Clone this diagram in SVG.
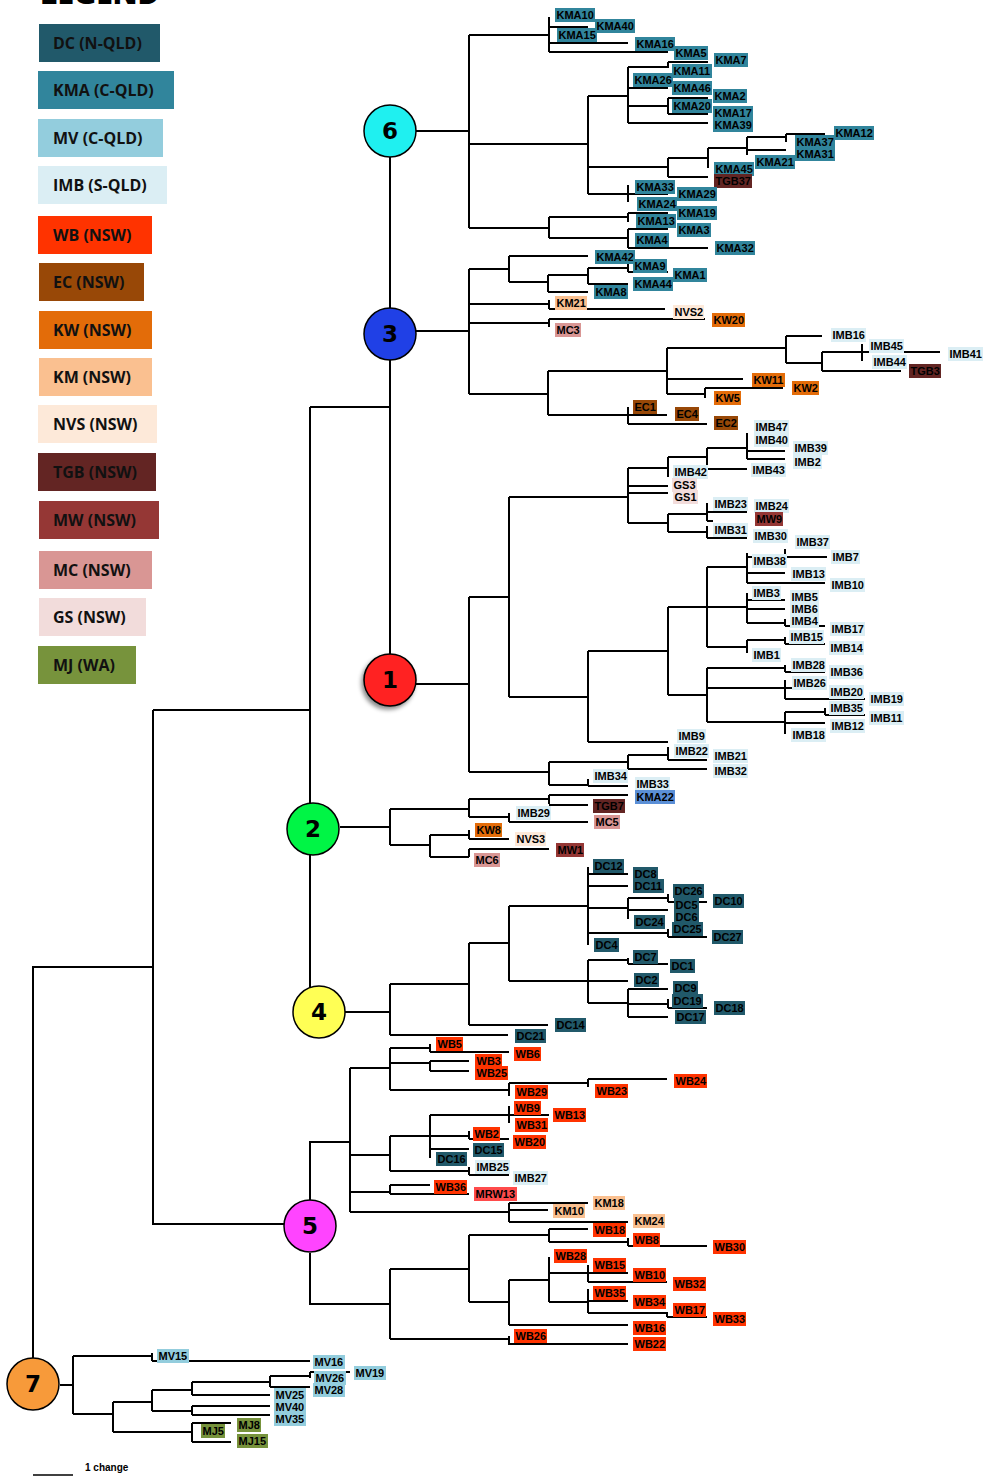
<svg xmlns="http://www.w3.org/2000/svg" width="988" height="1477" viewBox="0 0 988 1477">
<style>
.t{font-family:"Liberation Sans",Arial,sans-serif;font-size:11px;font-weight:bold;fill:#000}
.br{fill:none;stroke:#000;stroke-width:2}
.lg{font-family:"Open Sans","Liberation Sans",sans-serif;font-size:16px;font-weight:700;fill:#111}
.cn{font-family:"DejaVu Sans","Liberation Sans",sans-serif;font-size:23px;font-weight:bold;text-anchor:middle;fill:#000}
.cc{stroke:#000;stroke-width:1.5}
.dc{fill:#21596a}.kma{fill:#31859c}.mv{fill:#93cddd}.imb{fill:#dbeef4}.wb{fill:#ff3300}.ec{fill:#984807}
.kw{fill:#e36c09}.km{fill:#fac090}.nvs{fill:#fde9d9}.tgb{fill:#632523}.mw{fill:#953735}.mc{fill:#d99694}
.gs{fill:#f2dcdb}.mj{fill:#77933c}.kma22{fill:#5b8fd6}.mrw{fill:#ff4b4b}
</style>
<defs>
<filter id="sh" x="-30%" y="-30%" width="170%" height="170%"><feDropShadow dx="-2" dy="3" stdDeviation="2" flood-color="#000" flood-opacity="0.45"/></filter>
</defs>
<rect width="988" height="1477" fill="#fff"/>

<g id="legend">
<text x="40" y="4" font-family="Open Sans, Liberation Sans, sans-serif" font-size="30" font-weight="800" fill="#000">LEGEND</text>
<rect class="dc" x="39" y="24" width="121" height="38"/><text class="lg" x="53" y="49">DC (N-QLD)</text>
<rect class="kma" x="38" y="71" width="136" height="38"/><text class="lg" x="53" y="96">KMA (C-QLD)</text>
<rect class="mv" x="38" y="119" width="125" height="38"/><text class="lg" x="53" y="144">MV (C-QLD)</text>
<rect class="imb" x="38" y="166" width="129" height="38"/><text class="lg" x="53" y="191">IMB (S-QLD)</text>
<rect class="wb" x="38" y="216" width="114" height="38"/><text class="lg" x="53" y="241">WB (NSW)</text>
<rect class="ec" x="39" y="263" width="105" height="38"/><text class="lg" x="53" y="288">EC (NSW)</text>
<rect class="kw" x="39" y="311" width="113" height="38"/><text class="lg" x="53" y="336">KW (NSW)</text>
<rect class="km" x="39" y="358" width="113" height="38"/><text class="lg" x="53" y="383">KM (NSW)</text>
<rect class="nvs" x="38" y="405" width="119" height="38"/><text class="lg" x="53" y="430">NVS (NSW)</text>
<rect class="tgb" x="38" y="453" width="118" height="38"/><text class="lg" x="53" y="478">TGB (NSW)</text>
<rect class="mw" x="39" y="501" width="120" height="38"/><text class="lg" x="53" y="526">MW (NSW)</text>
<rect class="mc" x="39" y="551" width="113" height="38"/><text class="lg" x="53" y="576">MC (NSW)</text>
<rect class="gs" x="39" y="598" width="107" height="38"/><text class="lg" x="53" y="623">GS (NSW)</text>
<rect class="mj" x="38" y="646" width="98" height="38"/><text class="lg" x="53" y="671">MJ (WA)</text>
</g>

<g id="connectors" class="br">
<path d="M33 1358V967H153M153 710V1224H284M153 710H310M310 407V803M310 855V990M310 407H390M390 157V654M416 131H469M469 35V228M416 331H469M469 269V394M416 684H469M469 597V772M340 827H390M390 809V845M345 1012H390M390 984V1035M310 1201V1142H350M350 1068V1212M310 1253V1304H390M390 1269V1339M60 1385H73M73 1356V1414"/>
<path d="M469 35H549M549 17V52M549 27H588M549 43H628M549 52H668M469 144H588M588 96V194M588 96H628M628 67V123M628 67H668M668 62V68M668 62H708M628 88H668M628 106H668M668 98V114M668 98H708M668 114H708M628 123H708M588 167H668M668 158V177M668 158H708M708 148V168M708 148H747M747 137V155M747 137H786M786 134V142M786 134H825M747 150H786M668 177H708M588 194H668M628 185V202M469 228H549M549 217V238M549 217H628M628 213V222M628 213H668M549 238H628M628 229V248M628 229H668M628 248H708"/>
<path d="M469 269H509M509 256V282M509 256H588M509 282H548M548 275V292M548 275H588M588 268V284M588 268H628M628 264V272M628 272H668M588 284H628M548 292H588M469 304H549M549 300V309M549 309H665M469 323H549M549 319V327M549 319H705M469 394H548M548 371V415M548 371H667M667 348V394M667 348H786M786 336V363M786 336H822M786 363H822M822 352V371M822 352H940M862 344V361M822 371H901M667 379H743M667 394H705M705 388V398M705 388H783M548 415H628M628 407V424M628 415H667M628 424H707"/>
<path d="M469 597H509M509 497V697M509 497H628M628 468V523M628 468H668M668 457V477M668 457H707M707 448V469M707 448H747M747 433V459M747 451H785M747 459H785M707 469H747M628 486H668M628 493H668M628 523H668M668 514V532M668 514H707M707 503V521M707 512H747M707 521H713M668 532H707M707 526V538M707 538H747M509 697H588M588 651V742M588 651H668M668 607V695M668 607H707M707 567V647M707 567H747M747 553V583M747 557H827M785 549V557M747 573H785M747 583H825M707 607H747M747 593V623M747 600H785M747 609H785M747 623H785M785 619V626M785 626H825M707 647H747M747 640V653M747 640H785M785 637V644M785 644H825M668 695H707M707 668V722M707 668H785M785 665V672M785 672H825M707 688H785M785 680V699M785 688H827M785 699H865M707 722H785M785 712V734M785 712H825M825 708V715M825 715H865M785 723H825M588 742H668M469 772H549M549 762V785M549 762H628M628 755V769M628 755H668M668 747V760M668 760H707M628 769H707M549 785H588M588 779V786M588 786H628"/>
<path d="M390 809H469M469 799V817M469 799H549M549 795V804M549 795H628M549 805H588M469 817H509M509 813V822M509 822H588M390 845H430M430 835V857M430 835H469M469 830V839M469 839H509M430 857H469M469 849V857M469 849H549"/>
<path d="M390 984H469M469 943V1025M469 1025H548M390 1035H508M469 943H509M509 906V981M509 906H588M588 867V945M588 874H628M588 886H628M588 908H628M628 898V919M628 898H668M668 894V902M668 902H707M628 910H668M588 933H668M668 929V937M668 937H707M509 981H588M588 960V1003M588 960H628M628 958V964M628 964H668M588 981H628M588 1003H628M628 989V1017M628 989H668M628 1004H668M668 999V1008M668 1008H707M628 1017H668"/>
<path d="M350 1068H390M390 1048V1090M390 1048H430M430 1044V1052M430 1052H509M390 1063H430M430 1061V1071M430 1061H469M430 1071H469M390 1090H509M509 1083V1096M509 1083H588M588 1079V1087M588 1079H667M350 1155H390M390 1136V1171M390 1136H430M430 1115V1158M430 1115H549M509 1106V1123M430 1136H469M469 1131V1139M469 1139H509M430 1149H469M390 1171H469M469 1167V1175M469 1175H509M350 1192H390M390 1185V1194M390 1185H430M390 1194H469M350 1212H509M509 1203V1222M509 1203H588M509 1210H548M509 1222H628M390 1269H469M469 1235V1302M469 1235H549M549 1229V1242M549 1229H588M549 1242H628M628 1238V1246M628 1246H707M469 1302H509M509 1280V1325M509 1280H549M549 1257V1302M549 1273H628M588 1265V1282M588 1282H667M549 1302H588M588 1289V1313M588 1301H628M588 1313H667M667 1312V1317M667 1317H707M509 1325H628M390 1339H509M509 1336V1345M509 1344H628"/>
<path d="M73 1356H152M152 1353V1361M152 1361H310M73 1414H113M113 1402V1432M113 1402H152M152 1390V1411M152 1390H192M192 1382V1395M192 1382H270M270 1376V1387M270 1376H310M310 1372V1378M310 1372H350M270 1387H310M192 1395H270M152 1411H192M192 1406V1415M192 1406H270M192 1415H270M113 1432H192M192 1423V1442M192 1423H231M192 1442H231"/>
<path d="M33 1475H73" stroke-width="1.5"/>
</g>
<text x="85" y="1471" font-family="Liberation Sans, Arial, sans-serif" font-size="10" font-weight="bold">1 change</text>

<g id="circles">
<g id="c6"><circle class="cc" cx="390" cy="131" r="26" fill="#1ff0f0"/><text class="cn" x="390" y="139">6</text></g>
<g id="c3"><circle class="cc" cx="390" cy="334" r="26" fill="#2040e6"/><text class="cn" x="390" y="342">3</text></g>
<g id="c1"><circle class="cc" cx="390" cy="680" r="26" fill="#ff2020" filter="url(#sh)"/><text class="cn" x="390" y="688">1</text></g>
<g id="c2"><circle class="cc" cx="313" cy="829" r="26" fill="#00f545"/><text class="cn" x="313" y="837">2</text></g>
<g id="c4"><circle class="cc" cx="319" cy="1012" r="26" fill="#ffff55"/><text class="cn" x="319" y="1020">4</text></g>
<g id="c5"><circle class="cc" cx="310" cy="1226" r="26" fill="#ff44ff"/><text class="cn" x="310" y="1234">5</text></g>
<g id="c7"><circle class="cc" cx="33" cy="1384" r="26" fill="#f79a3a"/><text class="cn" x="33" y="1392">7</text></g>
</g>

<g id="labels">
<g id="KMA10"><rect class="kma" x="555" y="8" width="40" height="14"/><text class="t" x="556.5" y="19">KMA10</text></g>
<g id="KMA40"><rect class="kma" x="595" y="19" width="40" height="14"/><text class="t" x="596.5" y="30">KMA40</text></g>
<g id="KMA15"><rect class="kma" x="557" y="28" width="40" height="14"/><text class="t" x="558.5" y="39">KMA15</text></g>
<g id="KMA16"><rect class="kma" x="635" y="37" width="40" height="14"/><text class="t" x="636.5" y="48">KMA16</text></g>
<g id="KMA5"><rect class="kma" x="674" y="46" width="34" height="14"/><text class="t" x="675.5" y="57">KMA5</text></g>
<g id="KMA7"><rect class="kma" x="714" y="53" width="34" height="14"/><text class="t" x="715.5" y="64">KMA7</text></g>
<g id="KMA11"><rect class="kma" x="672" y="64" width="40" height="14"/><text class="t" x="673.5" y="75">KMA11</text></g>
<g id="KMA26"><rect class="kma" x="633" y="73" width="40" height="14"/><text class="t" x="634.5" y="84">KMA26</text></g>
<g id="KMA46"><rect class="kma" x="672" y="81" width="40" height="14"/><text class="t" x="673.5" y="92">KMA46</text></g>
<g id="KMA2"><rect class="kma" x="713" y="89" width="34" height="14"/><text class="t" x="714.5" y="100">KMA2</text></g>
<g id="KMA20"><rect class="kma" x="672" y="99" width="40" height="14"/><text class="t" x="673.5" y="110">KMA20</text></g>
<g id="KMA17"><rect class="kma" x="713" y="106" width="40" height="14"/><text class="t" x="714.5" y="117">KMA17</text></g>
<g id="KMA39"><rect class="kma" x="713" y="118" width="40" height="14"/><text class="t" x="714.5" y="129">KMA39</text></g>
<g id="KMA12"><rect class="kma" x="834" y="126" width="40" height="14"/><text class="t" x="835.5" y="137">KMA12</text></g>
<g id="KMA37"><rect class="kma" x="795" y="135" width="40" height="14"/><text class="t" x="796.5" y="146">KMA37</text></g>
<g id="KMA31"><rect class="kma" x="795" y="147" width="40" height="14"/><text class="t" x="796.5" y="158">KMA31</text></g>
<g id="KMA21"><rect class="kma" x="755" y="155" width="40" height="14"/><text class="t" x="756.5" y="166">KMA21</text></g>
<g id="KMA45"><rect class="kma" x="714" y="162" width="40" height="14"/><text class="t" x="715.5" y="173">KMA45</text></g>
<g id="TGB37"><rect class="tgb" x="714" y="174" width="38" height="14"/><text class="t" x="715.5" y="185">TGB37</text></g>
<g id="KMA33"><rect class="kma" x="635" y="180" width="40" height="14"/><text class="t" x="636.5" y="191">KMA33</text></g>
<g id="KMA29"><rect class="kma" x="677" y="187" width="40" height="14"/><text class="t" x="678.5" y="198">KMA29</text></g>
<g id="KMA24"><rect class="kma" x="637" y="197" width="40" height="14"/><text class="t" x="638.5" y="208">KMA24</text></g>
<g id="KMA19"><rect class="kma" x="677" y="206" width="40" height="14"/><text class="t" x="678.5" y="217">KMA19</text></g>
<g id="KMA13"><rect class="kma" x="636" y="214" width="40" height="14"/><text class="t" x="637.5" y="225">KMA13</text></g>
<g id="KMA3"><rect class="kma" x="677" y="223" width="34" height="14"/><text class="t" x="678.5" y="234">KMA3</text></g>
<g id="KMA4"><rect class="kma" x="635" y="233" width="34" height="14"/><text class="t" x="636.5" y="244">KMA4</text></g>
<g id="KMA32"><rect class="kma" x="715" y="241" width="40" height="14"/><text class="t" x="716.5" y="252">KMA32</text></g>

<g id="KMA42"><rect class="kma" x="595" y="250" width="40" height="14"/><text class="t" x="596.5" y="261">KMA42</text></g>
<g id="KMA9"><rect class="kma" x="633" y="259" width="34" height="14"/><text class="t" x="634.5" y="270">KMA9</text></g>
<g id="KMA1"><rect class="kma" x="673" y="268" width="34" height="14"/><text class="t" x="674.5" y="279">KMA1</text></g>
<g id="KMA44"><rect class="kma" x="633" y="277" width="40" height="14"/><text class="t" x="634.5" y="288">KMA44</text></g>
<g id="KMA8"><rect class="kma" x="594" y="285" width="34" height="14"/><text class="t" x="595.5" y="296">KMA8</text></g>
<g id="KM21"><rect class="km" x="555" y="296" width="32" height="14"/><text class="t" x="556.5" y="307">KM21</text></g>
<g id="NVS2"><rect class="nvs" x="673" y="305" width="31" height="14"/><text class="t" x="674.5" y="316">NVS2</text></g>
<g id="KW20"><rect class="kw" x="712" y="313" width="33" height="14"/><text class="t" x="713.5" y="324">KW20</text></g>
<g id="MC3"><rect class="mc" x="555" y="323" width="26" height="14"/><text class="t" x="556.5" y="334">MC3</text></g>
<g id="IMB16"><rect class="imb" x="831" y="328" width="35" height="14"/><text class="t" x="832.5" y="339">IMB16</text></g>
<g id="IMB45"><rect class="imb" x="869" y="339" width="35" height="14"/><text class="t" x="870.5" y="350">IMB45</text></g>
<g id="IMB41"><rect class="imb" x="948" y="347" width="35" height="14"/><text class="t" x="949.5" y="358">IMB41</text></g>
<g id="IMB44"><rect class="imb" x="872" y="355" width="35" height="14"/><text class="t" x="873.5" y="366">IMB44</text></g>
<g id="TGB3"><rect class="tgb" x="909" y="364" width="32" height="14"/><text class="t" x="910.5" y="375">TGB3</text></g>
<g id="KW11"><rect class="kw" x="752" y="373" width="33" height="14"/><text class="t" x="753.5" y="384">KW11</text></g>
<g id="KW2"><rect class="kw" x="792" y="381" width="27" height="14"/><text class="t" x="793.5" y="392">KW2</text></g>
<g id="KW5"><rect class="kw" x="714" y="391" width="27" height="14"/><text class="t" x="715.5" y="402">KW5</text></g>
<g id="EC1"><rect class="ec" x="633" y="400" width="24" height="14"/><text class="t" x="634.5" y="411">EC1</text></g>
<g id="EC4"><rect class="ec" x="675" y="407" width="24" height="14"/><text class="t" x="676.5" y="418">EC4</text></g>
<g id="EC2"><rect class="ec" x="714" y="416" width="24" height="14"/><text class="t" x="715.5" y="427">EC2</text></g>

<g id="IMB47"><rect class="imb" x="754" y="420" width="35" height="14"/><text class="t" x="755.5" y="431">IMB47</text></g>
<g id="IMB40"><rect class="imb" x="754" y="433" width="35" height="14"/><text class="t" x="755.5" y="444">IMB40</text></g>
<g id="IMB39"><rect class="imb" x="793" y="441" width="35" height="14"/><text class="t" x="794.5" y="452">IMB39</text></g>
<g id="IMB2"><rect class="imb" x="793" y="455" width="29" height="14"/><text class="t" x="794.5" y="466">IMB2</text></g>
<g id="IMB43"><rect class="imb" x="751" y="463" width="35" height="14"/><text class="t" x="752.5" y="474">IMB43</text></g>
<g id="IMB42"><rect class="imb" x="673" y="465" width="35" height="14"/><text class="t" x="674.5" y="476">IMB42</text></g>
<g id="GS3"><rect class="gs" x="672" y="478" width="25" height="14"/><text class="t" x="673.5" y="489">GS3</text></g>
<g id="GS1"><rect class="gs" x="673" y="490" width="25" height="14"/><text class="t" x="674.5" y="501">GS1</text></g>
<g id="IMB23"><rect class="imb" x="713" y="497" width="35" height="14"/><text class="t" x="714.5" y="508">IMB23</text></g>
<g id="IMB24"><rect class="imb" x="754" y="499" width="35" height="14"/><text class="t" x="755.5" y="510">IMB24</text></g>
<g id="MW9"><rect class="mw" x="755" y="512" width="28" height="14"/><text class="t" x="756.5" y="523">MW9</text></g>
<g id="IMB31"><rect class="imb" x="713" y="523" width="35" height="14"/><text class="t" x="714.5" y="534">IMB31</text></g>
<g id="IMB30"><rect class="imb" x="753" y="529" width="35" height="14"/><text class="t" x="754.5" y="540">IMB30</text></g>
<g id="IMB37"><rect class="imb" x="795" y="535" width="35" height="14"/><text class="t" x="796.5" y="546">IMB37</text></g>
<g id="IMB7"><rect class="imb" x="831" y="550" width="29" height="14"/><text class="t" x="832.5" y="561">IMB7</text></g>
<g id="IMB38"><rect class="imb" x="752" y="554" width="35" height="14"/><text class="t" x="753.5" y="565">IMB38</text></g>
<g id="IMB13"><rect class="imb" x="791" y="567" width="35" height="14"/><text class="t" x="792.5" y="578">IMB13</text></g>
<g id="IMB10"><rect class="imb" x="830" y="578" width="35" height="14"/><text class="t" x="831.5" y="589">IMB10</text></g>
<g id="IMB3"><rect class="imb" x="752" y="586" width="29" height="14"/><text class="t" x="753.5" y="597">IMB3</text></g>
<g id="IMB5"><rect class="imb" x="790" y="590" width="29" height="14"/><text class="t" x="791.5" y="601">IMB5</text></g>
<g id="IMB6"><rect class="imb" x="790" y="602" width="29" height="14"/><text class="t" x="791.5" y="613">IMB6</text></g>
<g id="IMB4"><rect class="imb" x="790" y="614" width="29" height="14"/><text class="t" x="791.5" y="625">IMB4</text></g>
<g id="IMB17"><rect class="imb" x="830" y="622" width="35" height="14"/><text class="t" x="831.5" y="633">IMB17</text></g>
<g id="IMB15"><rect class="imb" x="789" y="630" width="35" height="14"/><text class="t" x="790.5" y="641">IMB15</text></g>
<g id="IMB14"><rect class="imb" x="829" y="641" width="35" height="14"/><text class="t" x="830.5" y="652">IMB14</text></g>
<g id="IMB1"><rect class="imb" x="752" y="648" width="29" height="14"/><text class="t" x="753.5" y="659">IMB1</text></g>
<g id="IMB28"><rect class="imb" x="791" y="658" width="35" height="14"/><text class="t" x="792.5" y="669">IMB28</text></g>
<g id="IMB36"><rect class="imb" x="829" y="665" width="35" height="14"/><text class="t" x="830.5" y="676">IMB36</text></g>
<g id="IMB26"><rect class="imb" x="792" y="676" width="35" height="14"/><text class="t" x="793.5" y="687">IMB26</text></g>
<g id="IMB20"><rect class="imb" x="829" y="685" width="35" height="14"/><text class="t" x="830.5" y="696">IMB20</text></g>
<g id="IMB19"><rect class="imb" x="869" y="692" width="35" height="14"/><text class="t" x="870.5" y="703">IMB19</text></g>
<g id="IMB35"><rect class="imb" x="829" y="701" width="35" height="14"/><text class="t" x="830.5" y="712">IMB35</text></g>
<g id="IMB11"><rect class="imb" x="869" y="711" width="35" height="14"/><text class="t" x="870.5" y="722">IMB11</text></g>
<g id="IMB12"><rect class="imb" x="830" y="719" width="35" height="14"/><text class="t" x="831.5" y="730">IMB12</text></g>
<g id="IMB18"><rect class="imb" x="791" y="728" width="35" height="14"/><text class="t" x="792.5" y="739">IMB18</text></g>
<g id="IMB9"><rect class="imb" x="677" y="729" width="29" height="14"/><text class="t" x="678.5" y="740">IMB9</text></g>
<g id="IMB22"><rect class="imb" x="674" y="744" width="35" height="14"/><text class="t" x="675.5" y="755">IMB22</text></g>
<g id="IMB21"><rect class="imb" x="713" y="749" width="35" height="14"/><text class="t" x="714.5" y="760">IMB21</text></g>
<g id="IMB32"><rect class="imb" x="713" y="764" width="35" height="14"/><text class="t" x="714.5" y="775">IMB32</text></g>
<g id="IMB34"><rect class="imb" x="593" y="769" width="35" height="14"/><text class="t" x="594.5" y="780">IMB34</text></g>
<g id="IMB33"><rect class="imb" x="635" y="777" width="35" height="14"/><text class="t" x="636.5" y="788">IMB33</text></g>

<g id="KMA22"><rect class="kma22" x="635" y="790" width="40" height="14"/><text class="t" x="636.5" y="801">KMA22</text></g>
<g id="TGB7"><rect class="tgb" x="593" y="799" width="32" height="14"/><text class="t" x="594.5" y="810">TGB7</text></g>
<g id="IMB29"><rect class="imb" x="516" y="806" width="35" height="14"/><text class="t" x="517.5" y="817">IMB29</text></g>
<g id="MC5"><rect class="mc" x="594" y="815" width="26" height="14"/><text class="t" x="595.5" y="826">MC5</text></g>
<g id="KW8"><rect class="kw" x="475" y="823" width="27" height="14"/><text class="t" x="476.5" y="834">KW8</text></g>
<g id="NVS3"><rect class="nvs" x="515" y="832" width="31" height="14"/><text class="t" x="516.5" y="843">NVS3</text></g>
<g id="MW1"><rect class="mw" x="556" y="843" width="28" height="14"/><text class="t" x="557.5" y="854">MW1</text></g>
<g id="MC6"><rect class="mc" x="474" y="853" width="26" height="14"/><text class="t" x="475.5" y="864">MC6</text></g>

<g id="DC12"><rect class="dc" x="593" y="859" width="31" height="14"/><text class="t" x="594.5" y="870">DC12</text></g>
<g id="DC8"><rect class="dc" x="633" y="867" width="25" height="14"/><text class="t" x="634.5" y="878">DC8</text></g>
<g id="DC11"><rect class="dc" x="633" y="879" width="31" height="14"/><text class="t" x="634.5" y="890">DC11</text></g>
<g id="DC26"><rect class="dc" x="673" y="884" width="31" height="14"/><text class="t" x="674.5" y="895">DC26</text></g>
<g id="DC10"><rect class="dc" x="713" y="894" width="31" height="14"/><text class="t" x="714.5" y="905">DC10</text></g>
<g id="DC5"><rect class="dc" x="674" y="898" width="25" height="14"/><text class="t" x="675.5" y="909">DC5</text></g>
<g id="DC6"><rect class="dc" x="674" y="910" width="25" height="14"/><text class="t" x="675.5" y="921">DC6</text></g>
<g id="DC24"><rect class="dc" x="634" y="915" width="31" height="14"/><text class="t" x="635.5" y="926">DC24</text></g>
<g id="DC25"><rect class="dc" x="672" y="922" width="31" height="14"/><text class="t" x="673.5" y="933">DC25</text></g>
<g id="DC27"><rect class="dc" x="712" y="930" width="31" height="14"/><text class="t" x="713.5" y="941">DC27</text></g>
<g id="DC4"><rect class="dc" x="594" y="938" width="25" height="14"/><text class="t" x="595.5" y="949">DC4</text></g>
<g id="DC7"><rect class="dc" x="633" y="950" width="25" height="14"/><text class="t" x="634.5" y="961">DC7</text></g>
<g id="DC1"><rect class="dc" x="670" y="959" width="25" height="14"/><text class="t" x="671.5" y="970">DC1</text></g>
<g id="DC2"><rect class="dc" x="634" y="973" width="25" height="14"/><text class="t" x="635.5" y="984">DC2</text></g>
<g id="DC9"><rect class="dc" x="673" y="981" width="25" height="14"/><text class="t" x="674.5" y="992">DC9</text></g>
<g id="DC19"><rect class="dc" x="672" y="994" width="31" height="14"/><text class="t" x="673.5" y="1005">DC19</text></g>
<g id="DC18"><rect class="dc" x="714" y="1001" width="31" height="14"/><text class="t" x="715.5" y="1012">DC18</text></g>
<g id="DC17"><rect class="dc" x="675" y="1010" width="31" height="14"/><text class="t" x="676.5" y="1021">DC17</text></g>
<g id="DC14"><rect class="dc" x="555" y="1018" width="31" height="14"/><text class="t" x="556.5" y="1029">DC14</text></g>
<g id="DC21"><rect class="dc" x="515" y="1029" width="31" height="14"/><text class="t" x="516.5" y="1040">DC21</text></g>

<g id="WB5"><rect class="wb" x="436" y="1037" width="27" height="14"/><text class="t" x="437.5" y="1048">WB5</text></g>
<g id="WB6"><rect class="wb" x="514" y="1047" width="27" height="14"/><text class="t" x="515.5" y="1058">WB6</text></g>
<g id="WB3"><rect class="wb" x="475" y="1054" width="27" height="14"/><text class="t" x="476.5" y="1065">WB3</text></g>
<g id="WB25"><rect class="wb" x="475" y="1066" width="33" height="14"/><text class="t" x="476.5" y="1077">WB25</text></g>
<g id="WB24"><rect class="wb" x="674" y="1074" width="33" height="14"/><text class="t" x="675.5" y="1085">WB24</text></g>
<g id="WB23"><rect class="wb" x="595" y="1084" width="33" height="14"/><text class="t" x="596.5" y="1095">WB23</text></g>
<g id="WB29"><rect class="wb" x="515" y="1085" width="33" height="14"/><text class="t" x="516.5" y="1096">WB29</text></g>
<g id="WB9"><rect class="wb" x="514" y="1101" width="27" height="14"/><text class="t" x="515.5" y="1112">WB9</text></g>
<g id="WB13"><rect class="wb" x="553" y="1108" width="33" height="14"/><text class="t" x="554.5" y="1119">WB13</text></g>
<g id="WB31"><rect class="wb" x="515" y="1118" width="33" height="14"/><text class="t" x="516.5" y="1129">WB31</text></g>
<g id="WB2"><rect class="wb" x="473" y="1127" width="27" height="14"/><text class="t" x="474.5" y="1138">WB2</text></g>
<g id="WB20"><rect class="wb" x="513" y="1135" width="33" height="14"/><text class="t" x="514.5" y="1146">WB20</text></g>
<g id="DC15"><rect class="dc" x="473" y="1143" width="31" height="14"/><text class="t" x="474.5" y="1154">DC15</text></g>
<g id="DC16"><rect class="dc" x="436" y="1152" width="31" height="14"/><text class="t" x="437.5" y="1163">DC16</text></g>
<g id="IMB25"><rect class="imb" x="475" y="1160" width="35" height="14"/><text class="t" x="476.5" y="1171">IMB25</text></g>
<g id="IMB27"><rect class="imb" x="513" y="1171" width="35" height="14"/><text class="t" x="514.5" y="1182">IMB27</text></g>
<g id="WB36"><rect class="wb" x="434" y="1180" width="33" height="14"/><text class="t" x="435.5" y="1191">WB36</text></g>
<g id="MRW13"><rect class="mrw" x="474" y="1187" width="43" height="14"/><text class="t" x="475.5" y="1198">MRW13</text></g>
<g id="KM18"><rect class="km" x="593" y="1196" width="32" height="14"/><text class="t" x="594.5" y="1207">KM18</text></g>
<g id="KM10"><rect class="km" x="553" y="1204" width="32" height="14"/><text class="t" x="554.5" y="1215">KM10</text></g>
<g id="KM24"><rect class="km" x="633" y="1214" width="32" height="14"/><text class="t" x="634.5" y="1225">KM24</text></g>
<g id="WB18"><rect class="wb" x="593" y="1223" width="33" height="14"/><text class="t" x="594.5" y="1234">WB18</text></g>
<g id="WB8"><rect class="wb" x="633" y="1233" width="27" height="14"/><text class="t" x="634.5" y="1244">WB8</text></g>
<g id="WB30"><rect class="wb" x="713" y="1240" width="33" height="14"/><text class="t" x="714.5" y="1251">WB30</text></g>
<g id="WB28"><rect class="wb" x="554" y="1249" width="33" height="14"/><text class="t" x="555.5" y="1260">WB28</text></g>
<g id="WB15"><rect class="wb" x="593" y="1258" width="33" height="14"/><text class="t" x="594.5" y="1269">WB15</text></g>
<g id="WB10"><rect class="wb" x="633" y="1268" width="33" height="14"/><text class="t" x="634.5" y="1279">WB10</text></g>
<g id="WB32"><rect class="wb" x="673" y="1277" width="33" height="14"/><text class="t" x="674.5" y="1288">WB32</text></g>
<g id="WB35"><rect class="wb" x="593" y="1286" width="33" height="14"/><text class="t" x="594.5" y="1297">WB35</text></g>
<g id="WB34"><rect class="wb" x="633" y="1295" width="33" height="14"/><text class="t" x="634.5" y="1306">WB34</text></g>
<g id="WB17"><rect class="wb" x="673" y="1303" width="33" height="14"/><text class="t" x="674.5" y="1314">WB17</text></g>
<g id="WB33"><rect class="wb" x="713" y="1312" width="33" height="14"/><text class="t" x="714.5" y="1323">WB33</text></g>
<g id="WB16"><rect class="wb" x="633" y="1321" width="33" height="14"/><text class="t" x="634.5" y="1332">WB16</text></g>
<g id="WB26"><rect class="wb" x="514" y="1329" width="33" height="14"/><text class="t" x="515.5" y="1340">WB26</text></g>
<g id="WB22"><rect class="wb" x="633" y="1337" width="33" height="14"/><text class="t" x="634.5" y="1348">WB22</text></g>

<g id="MV15"><rect class="mv" x="157" y="1349" width="32" height="14"/><text class="t" x="158.5" y="1360">MV15</text></g>
<g id="MV16"><rect class="mv" x="313" y="1355" width="32" height="14"/><text class="t" x="314.5" y="1366">MV16</text></g>
<g id="MV19"><rect class="mv" x="354" y="1366" width="32" height="14"/><text class="t" x="355.5" y="1377">MV19</text></g>
<g id="MV26"><rect class="mv" x="314" y="1371" width="32" height="14"/><text class="t" x="315.5" y="1382">MV26</text></g>
<g id="MV28"><rect class="mv" x="313" y="1383" width="32" height="14"/><text class="t" x="314.5" y="1394">MV28</text></g>
<g id="MV25"><rect class="mv" x="274" y="1388" width="32" height="14"/><text class="t" x="275.5" y="1399">MV25</text></g>
<g id="MV40"><rect class="mv" x="274" y="1400" width="32" height="14"/><text class="t" x="275.5" y="1411">MV40</text></g>
<g id="MV35"><rect class="mv" x="274" y="1412" width="32" height="14"/><text class="t" x="275.5" y="1423">MV35</text></g>
<g id="MJ8"><rect class="mj" x="237" y="1418" width="24" height="14"/><text class="t" x="238.5" y="1429">MJ8</text></g>
<g id="MJ5"><rect class="mj" x="201" y="1424" width="24" height="14"/><text class="t" x="202.5" y="1435">MJ5</text></g>
<g id="MJ15"><rect class="mj" x="237" y="1434" width="31" height="14"/><text class="t" x="238.5" y="1445">MJ15</text></g>
</g>
</svg>
